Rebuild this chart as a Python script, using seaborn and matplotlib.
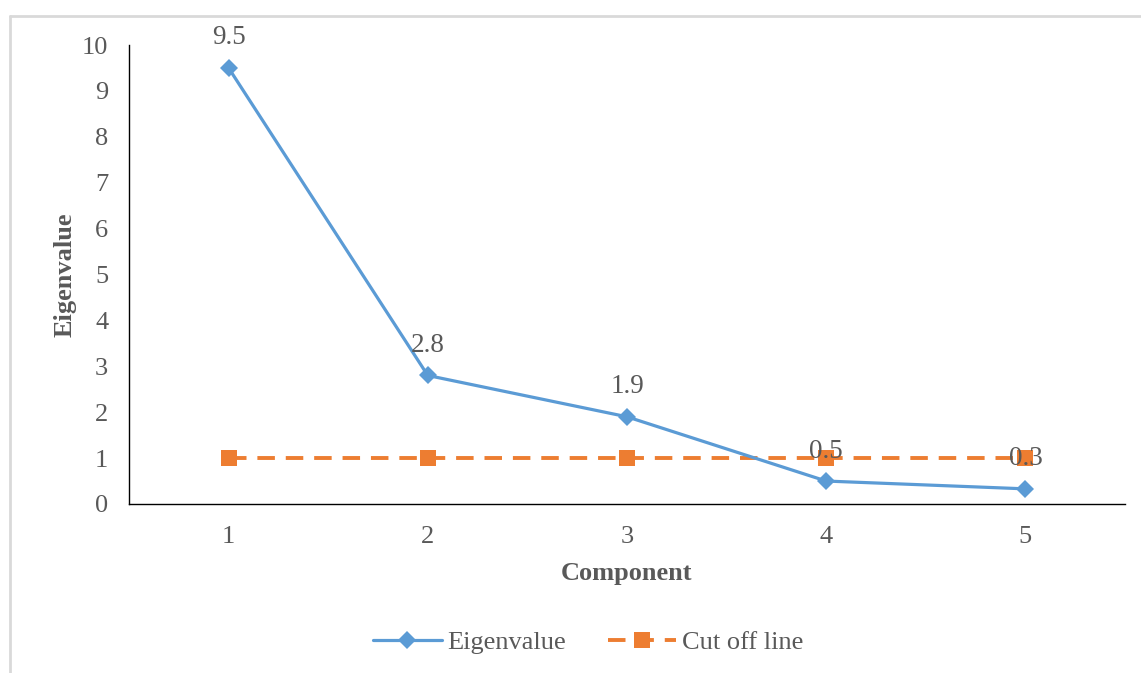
import matplotlib
matplotlib.use("Agg")
import matplotlib.pyplot as plt
import seaborn as sns
import pandas as pd
from matplotlib.lines import Line2D

components = [1, 2, 3, 4, 5]
eigenvalues = [9.5, 2.8, 1.9, 0.5, 0.33]
cutoff = [1, 1, 1, 1, 1]
series_names = ["Eigenvalue", "Cut off line"]
y_ticks = list(range(0, 11))

sns.set_theme(style="white")
plt.rcParams['font.family'] = ['Liberation Serif', 'DejaVu Serif']

BLUE = "#5B9BD5"
ORANGE = "#ED7D31"
GRAY = "#595959"

fig = plt.figure(figsize=(11.41, 6.73), dpi=100)
ax = fig.add_axes([129/1141, 1-504/673, (1125-129)/1141, (504-45)/673])

df_e = pd.DataFrame({"Component": components, "Value": eigenvalues})
df_c = pd.DataFrame({"Component": components, "Value": cutoff})

sns.lineplot(data=df_e, x="Component", y="Value", ax=ax, color=BLUE, lw=2.3,
             marker="D", markersize=9, markeredgewidth=0, markerfacecolor=BLUE, zorder=3)
sns.lineplot(data=df_c, x="Component", y="Value", ax=ax, color=ORANGE, lw=2.8,
             marker="s", markersize=11.5, markeredgewidth=0, markerfacecolor=ORANGE, zorder=2)
ax.lines[1].set_dashes([4.5, 2.8])

for x, v in zip(components, eigenvalues):
    ax.annotate(f"{v:.1f}", (x, v), xytext=(0, 30), textcoords="offset pixels",
                ha="center", va="center", fontsize=19.5, color=GRAY, zorder=5)

ax.set_xlim(0.5, 5.5)
ax.set_ylim(0, 10)
ax.set_xticks(components)
ax.set_yticks(y_ticks)
ax.tick_params(axis="both", length=0, labelsize=19, labelcolor=GRAY)
ax.tick_params(axis="x", pad=16)
ax.tick_params(axis="y", pad=15)
for s in ["top", "right"]:
    ax.spines[s].set_visible(False)
for s in ["left", "bottom"]:
    ax.spines[s].set_color("black")
    ax.spines[s].set_linewidth(1.0)

ax.set_xlabel("Component", fontsize=19, fontweight="bold", color=GRAY, labelpad=10)
ax.set_ylabel("Eigenvalue", fontsize=19, fontweight="bold", color=GRAY, labelpad=4)

handles = [
    Line2D([0], [0], color=BLUE, lw=2.3, marker="D", markersize=9, markeredgewidth=0),
    Line2D([0], [0], color=ORANGE, lw=2.8, marker="s", markersize=11.5, markeredgewidth=0,
           dashes=[4.5, 2.8]),
]
fig.legend(handles, series_names, loc="center", bbox_to_anchor=(588/1141, 1-642/673),
           ncol=2, frameon=False, fontsize=19, labelcolor=GRAY, handlelength=2.6,
           columnspacing=1.6, handletextpad=0.2)

# outer chart border (light gray, top and left visible)
fig.add_artist(Line2D([10/1141, 1], [1-16/673, 1-16/673], transform=fig.transFigure,
                      color="#D9D9D9", lw=2))
fig.add_artist(Line2D([10/1141, 10/1141], [0, 1-16/673], transform=fig.transFigure,
                      color="#D9D9D9", lw=2))

fig.savefig("out.png", dpi=100, facecolor="white")
